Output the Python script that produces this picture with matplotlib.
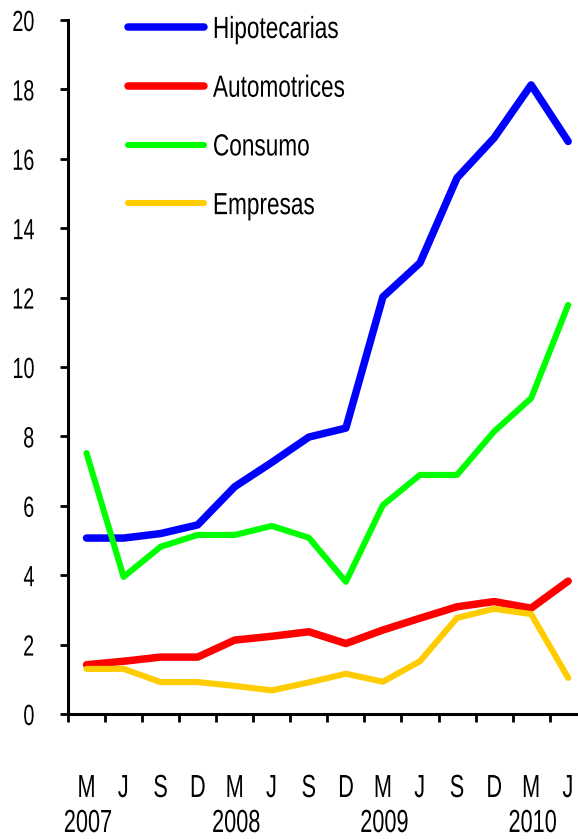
import matplotlib
matplotlib.use("Agg")
import matplotlib.pyplot as plt
from matplotlib.patheffects import AbstractPathEffect
from matplotlib.transforms import Affine2D

# quarterly periods, march 2007 .. june 2010
months = ["M", "J", "S", "D", "M", "J", "S", "D", "M", "J", "S", "D", "M", "J"]
years = ["2007", "", "", "", "2008", "", "", "", "2009", "", "", "", "2010", ""]

hipotecarias = [5.07, 5.07, 5.2, 5.45, 6.55, 7.25, 7.98, 8.24, 12.02, 13.0, 15.45, 16.6, 18.13, 16.5]
automotrices = [1.42, 1.52, 1.64, 1.64, 2.13, 2.24, 2.37, 2.03, 2.42, 2.76, 3.09, 3.24, 3.05, 3.83]
consumo = [7.52, 3.95, 4.82, 5.16, 5.16, 5.42, 5.08, 3.81, 6.02, 6.89, 6.89, 8.14, 9.1, 11.79]
empresas = [1.3, 1.3, 0.92, 0.92, 0.81, 0.68, 0.91, 1.16, 0.93, 1.52, 2.77, 3.03, 2.88, 1.04]


class Squeeze(AbstractPathEffect):
    '''narrow the glyphs horizontally (the original uses a condensed font)'''
    def __init__(self, sx, anchor="center"):
        super().__init__()
        self.sx = sx
        self.anchor = anchor

    def draw_path(self, renderer, gc, tpath, affine, rgbFace=None):
        ext = tpath.get_extents()
        if self.anchor == "left":
            cx = 0
        elif self.anchor == "right":
            cx = ext.x1
        else:
            cx = (ext.x0 + ext.x1) / 2
        t = Affine2D().translate(-cx, 0).scale(self.sx, 1).translate(cx, 0)
        renderer.draw_path(gc, tpath, t + affine, rgbFace)


plt.rcParams["font.family"] = ["Liberation Sans", "DejaVu Sans"]

fig = plt.figure(figsize=(5.78, 8.39), dpi=100)
ax = fig.add_axes([68 / 578, 125 / 839, 518.7 / 578, 694 / 839])

x = list(range(len(months)))
ax.plot(x, hipotecarias, color="#0000FF", lw=5.4, label="Hipotecarias", solid_capstyle="round", solid_joinstyle="round")
ax.plot(x, automotrices, color="#FF0000", lw=5.4, label="Automotrices", solid_capstyle="round", solid_joinstyle="round")
ax.plot(x, consumo, color="#00FF00", lw=4.4, label="Consumo", solid_capstyle="round", solid_joinstyle="round")
ax.plot(x, empresas, color="#FFCC00", lw=4.4, label="Empresas", solid_capstyle="round", solid_joinstyle="round")

ax.set_ylim(0, 20)
ax.set_xlim(-0.5, 13.5)
ax.set_yticks(range(0, 21, 2))
ax.tick_params(axis="y", labelsize=21, length=6, width=2, pad=18)
for t in ax.get_yticklabels():
    t.set_path_effects([Squeeze(0.68, "right")])

# ticks between categories, labels at categories (two rows: month, year)
ax.set_xticks([i - 0.5 for i in range(len(months) + 1)])
ax.set_xticklabels([])
ax.tick_params(axis="x", which="major", length=6, width=2)
trans = ax.get_xaxis_transform()
for i, (m, y) in enumerate(zip(months, years)):
    t = ax.text(i, -0.1196, m, transform=trans, ha="center", va="baseline", fontsize=23, clip_on=False)
    t.set_path_effects([Squeeze(0.68, "center")])
    if y:
        t = ax.text(i + 0.04, -0.170, y, transform=trans, ha="center", va="baseline", fontsize=23, clip_on=False)
        t.set_path_effects([Squeeze(0.68, "center")])

for s in ["top", "right"]:
    ax.spines[s].set_visible(False)
ax.spines["left"].set_linewidth(2.2)
ax.spines["bottom"].set_linewidth(2.2)

leg = ax.legend(loc="upper left", bbox_to_anchor=(128 / 578, 1 - 15 / 839), bbox_transform=fig.transFigure,
                frameon=False, fontsize=22, handlelength=2.5, handletextpad=0.28, labelspacing=0.94,
                borderpad=0, borderaxespad=0)
for t in leg.get_texts():
    t.set_path_effects([Squeeze(0.74, "left")])

fig.savefig("out.png", dpi=100)
